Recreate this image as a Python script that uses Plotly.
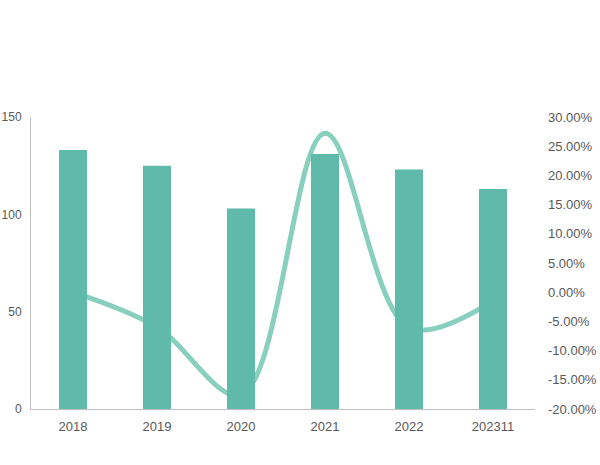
import plotly.graph_objects as go

categories = ["2018", "2019", "2020", "2021", "2022", "202311"]
bar_values = [133, 125, 103, 131, 123, 113]
growth_pct = [0.0, -6.0, -17.6, 27.2, -6.1, -1.5]
left_ticks = [0, 50, 100, 150]
right_ticks = [-20, -15, -10, -5, 0, 5, 10, 15, 20, 25, 30]

bar_color = "#5fbaa9"
line_color = "#88cfbe"
font = dict(family="Liberation Sans, Arial, sans-serif", size=12, color="#595959")

fig = go.Figure()
# line on primary (drawn underneath), bars on overlaying axis (drawn on top)
fig.add_trace(go.Scatter(
    x=categories, y=growth_pct, mode="lines", yaxis="y",
    line=dict(color=line_color, width=5, shape="spline", smoothing=1.0),
    showlegend=False, hoverinfo="skip"))
fig.add_trace(go.Bar(
    x=categories, y=bar_values, yaxis="y2", marker=dict(color=bar_color, line_width=0),
    showlegend=False))

fig.update_layout(
    width=600, height=465,
    margin=dict(l=31, r=65, t=117, b=56),
    paper_bgcolor="white", plot_bgcolor="white",
    font=font, bargap=0.667,
    xaxis=dict(type="category", showgrid=False, showline=True, linecolor="#bfbfbf",
               linewidth=1, ticks="", tickfont=dict(size=13), automargin=False,
               ticklabelstandoff=5),
    yaxis=dict(side="right", range=[-20, 30], tickvals=right_ticks,
               ticktext=[f"{v:.2f}%" for v in right_ticks], showgrid=False,
               zeroline=False, showline=False, ticks="", ticklabelstandoff=12,
               tickfont=dict(size=13), automargin=False),
    yaxis2=dict(side="left", overlaying="y", range=[0, 150], tickvals=left_ticks,
                showgrid=False, zeroline=False, showline=True, linecolor="#bfbfbf",
                linewidth=1, ticks="", ticklabelstandoff=6, automargin=False),
)

fig.write_html("out.html", config={"displayModeBar": False},
               post_script="document.body.style.margin='0';document.body.style.overflow='hidden';")
